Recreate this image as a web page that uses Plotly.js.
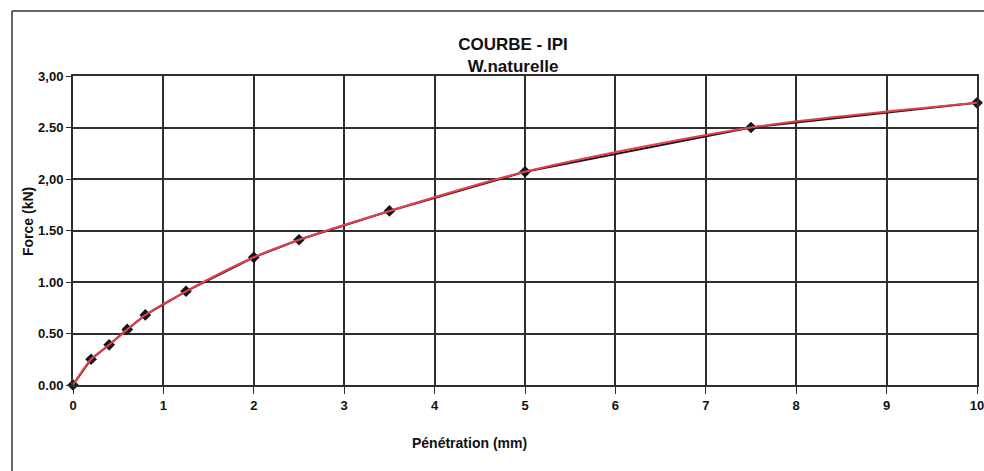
<!DOCTYPE html>
<html><head><meta charset="utf-8">
<script src="https://cdn.plot.ly/plotly-3.0.1.min.js"></script>
<style>html,body{margin:0;padding:0;background:#fff}#c{width:984px;height:471px}</style>
</head><body><div id="c"></div>
<script>
const penetration = [0, 0.2, 0.4, 0.6, 0.8, 1.25, 2, 2.5, 3.5, 5, 7.5, 10];
const force = [0, 0.25, 0.39, 0.54, 0.68, 0.91, 1.24, 1.41, 1.69, 2.07, 2.50, 2.74];
const yTickVals = [0, 0.5, 1, 1.5, 2, 2.5, 3];
const yTickText = ["0.00", "0.50", "1.00", "1.50", "2,00", "2.50", "3,00"];
const xTickVals = [0,1,2,3,4,5,6,7,8,9,10];

const F = "Liberation Sans, Arial, sans-serif";
const traces = [
  {x: penetration, y: force, mode: 'lines+markers', type: 'scatter',
   line: {color: '#1a1a1a', width: 2},
   marker: {symbol: 'diamond', size: 9, color: '#10161c'}, cliponaxis: false},
  {x: penetration, y: force, mode: 'lines', type: 'scatter',
   line: {color: '#e8404a', width: 2, shape: 'spline', smoothing: 0.8}, cliponaxis: false}
];
const layout = {
  width: 984, height: 471,
  margin: {l: 73, r: 7, t: 76, b: 86},
  paper_bgcolor: '#fff', plot_bgcolor: '#fff',
  showlegend: false,
  font: {family: F, color: '#111'},
  title: {text: '<b>COURBE - IPI</b><br><b>W.naturelle</b>', font: {family: F, size: 17, color: '#111'},
    x: 513/984, xanchor: 'center', xref: 'container', y: 1 - 50/471, yanchor: 'middle', yref: 'container'},
  xaxis: {range: [0, 10], tickvals: xTickVals, ticktext: xTickVals.map(String),
    ticklabeloverflow: 'allow',
    showgrid: true, gridcolor: '#2e2e2e', gridwidth: 2, zeroline: false,
    showline: true, linecolor: '#2e2e2e', linewidth: 2, mirror: true,
    ticks: 'outside', ticklen: 7, tickcolor: '#2e2e2e',
    tickfont: {family: F, size: 13, color: '#111', weight: 'bold'}},
  yaxis: {range: [0, 3], tickvals: yTickVals, ticktext: yTickText,
    showgrid: true, gridcolor: '#2e2e2e', gridwidth: 2, zeroline: false,
    showline: true, linecolor: '#2e2e2e', linewidth: 2, mirror: true,
    ticks: 'outside', ticklen: 5, tickcolor: '#2e2e2e',
    tickfont: {family: F, size: 13, color: '#111', weight: 'bold'}},
  annotations: [
    {text: '<b>Pénétration (mm)</b>', xref: 'paper', yref: 'paper',
     x: (469-73)/904, y: (385-443)/309, xanchor: 'center', yanchor: 'middle', showarrow: false,
     font: {family: F, size: 14, color: '#111'}},
    {text: '<b>Force (kN)</b>', xref: 'paper', yref: 'paper', textangle: -90,
     x: (28-73)/904, y: (385-222)/309, xanchor: 'center', yanchor: 'middle', showarrow: false,
     font: {family: F, size: 14, color: '#111'}}
  ],
  shapes: [
    {type: 'line', xref: 'paper', yref: 'paper', x0: (12-73)/904, x1: (990-73)/904,
     y0: (385-11)/309, y1: (385-11)/309, line: {color: '#333', width: 1.5}},
    {type: 'line', xref: 'paper', yref: 'paper', x0: (12-73)/904, x1: (12-73)/904,
     y0: (385-11)/309, y1: (385-480)/309, line: {color: '#333', width: 1.5}}
  ]
};
Plotly.newPlot('c', traces, layout, {displayModeBar: false, staticPlot: true});
</script></body></html>
